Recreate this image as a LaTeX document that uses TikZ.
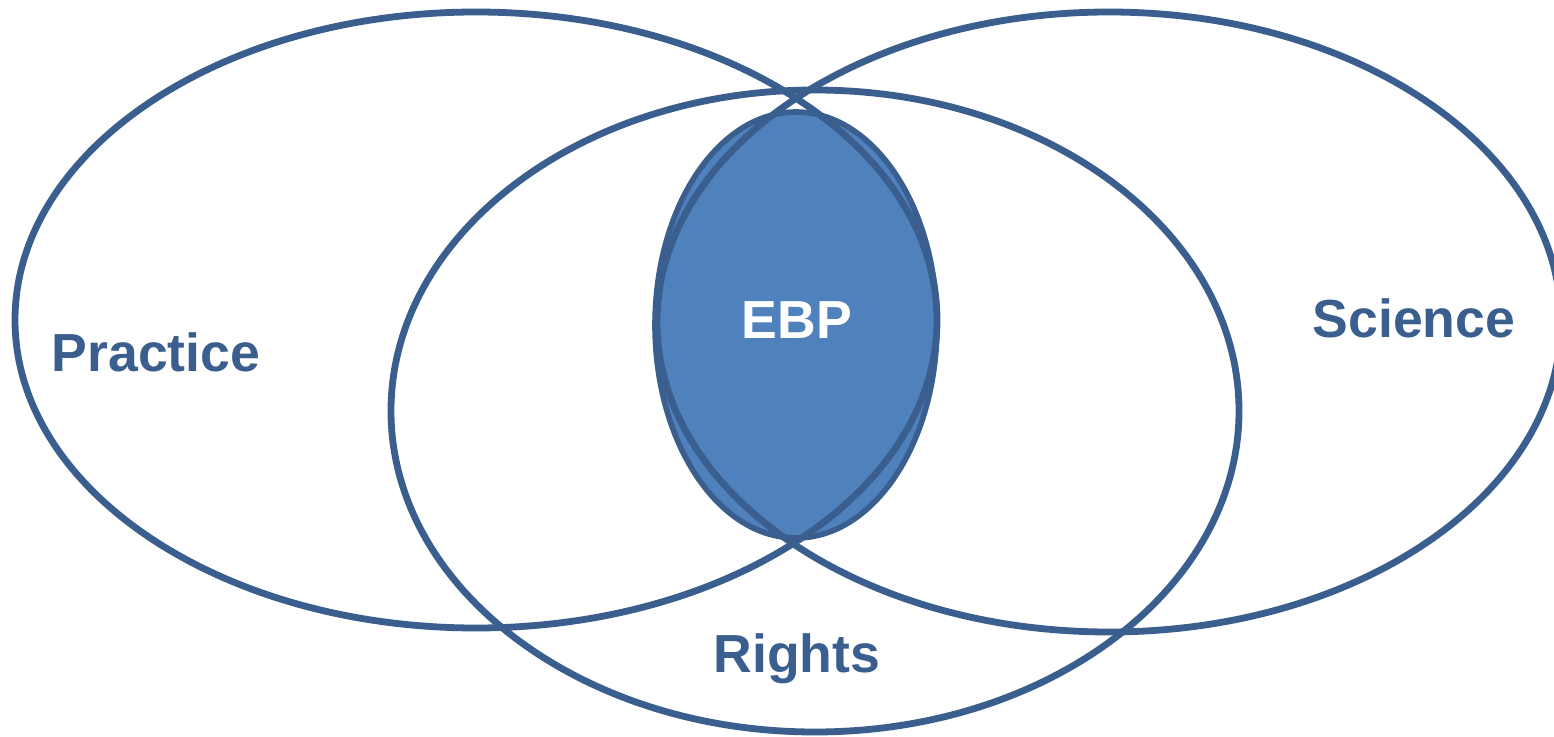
\documentclass[tikz,border=0pt]{standalone}
\usepackage{fontspec}
\setmainfont{Liberation Sans}
\definecolor{edge}{HTML}{3A5F8E}
\definecolor{ebpfill}{HTML}{4F81BD}
\begin{document}
\begin{tikzpicture}[x=0.5pt,y=-0.5pt,
  ring/.style={draw=edge,line width=3.4pt},
  lbl/.style={font=\bfseries\fontsize{26.8}{30}\selectfont,text=edge},
  ebplbl/.style={font=\bfseries\fontsize{26.8}{30}\selectfont,text=white}]
\useasboundingbox (0,0) rectangle (1554,737);
\fill[white] (0,0) rectangle (1554,737);
\draw[fill=ebpfill,draw=edge,line width=2.8pt] (796,325) ellipse [x radius=141, y radius=213];
\draw[ring] (476,320) ellipse [x radius=461, y radius=308];
\draw[ring] (1109,322) ellipse [x radius=452, y radius=310];
\draw[ring] (815,411) ellipse [x radius=424, y radius=321];
\node[lbl] (practice) at (156,352) {Practice};
\node[lbl] (science) at (1414,318) {Science};
\node[lbl] (rights) at (797,659) {Rights};
\node[ebplbl] (ebp) at (797,320) {EBP};
\end{tikzpicture}
\end{document}
